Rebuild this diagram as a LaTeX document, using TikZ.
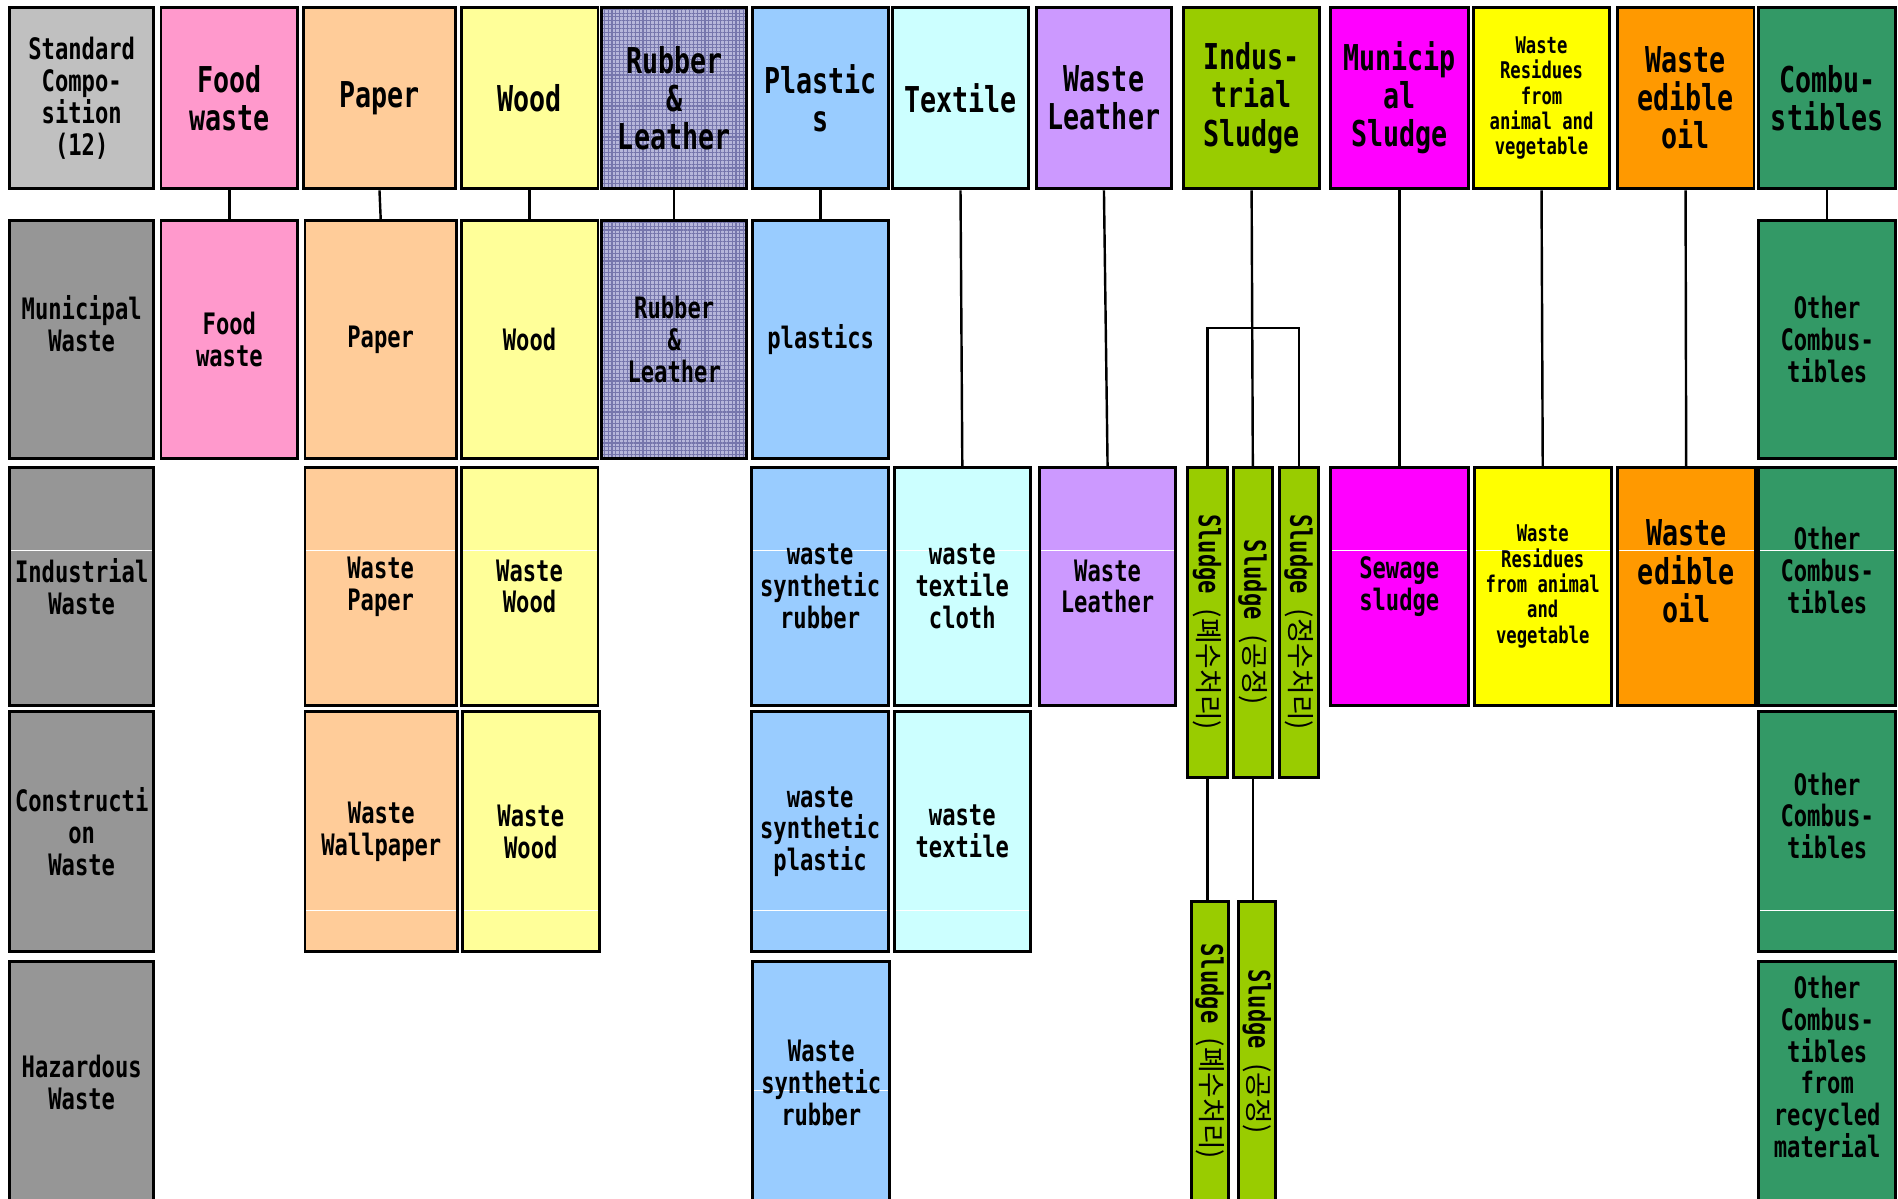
\documentclass[tikz,border=0pt]{standalone}
\usepackage{fontspec}
\usepackage{graphicx}
\setmainfont{DejaVu Sans Mono}[FakeStretch=0.75]
\newfontfamily\krfont{Noto Sans CJK KR}
\usetikzlibrary{patterns.meta}
\definecolor{stdgray}{HTML}{C0C0C0}
\definecolor{rowgray}{HTML}{969696}
\definecolor{foodc}{HTML}{FF99CC}
\definecolor{paperc}{HTML}{FFCC99}
\definecolor{woodc}{HTML}{FFFF99}
\definecolor{rubfill}{RGB}{182,182,218}
\definecolor{rubline}{RGB}{118,118,172}
\definecolor{plasc}{HTML}{99CCFF}
\definecolor{textc}{HTML}{CCFFFF}
\definecolor{leatc}{HTML}{CC99FF}
\definecolor{islc}{HTML}{99CC00}
\definecolor{mslc}{HTML}{FF00FF}
\definecolor{resc}{HTML}{FFFF00}
\definecolor{oilc}{HTML}{FF9900}
\definecolor{combc}{HTML}{339966}
\tikzset{
  box/.style={draw=black, line width=1.2pt, inner sep=0pt, align=center, text=black},
  L/.style={font=\bfseries\fontsize{14.7}{15.75}\selectfont},
  M/.style={font=\bfseries\fontsize{12.2}{13.15}\selectfont},
  S/.style={font=\bfseries\fontsize{9.5}{10.5}\selectfont},
  rubber/.style={preaction={fill=rubfill},
    preaction={pattern={Lines[angle=0,distance=1.6pt,line width=0.45pt]}, pattern color=rubline},
    pattern={Lines[angle=90,distance=1.6pt,line width=0.45pt]}, pattern color=rubline},
  wline/.style={path picture={\draw[white,line width=0.5pt] (path picture bounding box.west |- #1) -- (path picture bounding box.east |- #1);}},
  conn/.style={draw=black, line width=1pt},
  sludgetxt/.style={font=\bfseries\fontsize{12.2}{13.15}\selectfont}
}
\newcommand\cell[7]{\node[box,#6,minimum width={(#4-#2)*0.5pt},minimum height={(#5-#3)*0.5pt}] (#1) at ({(#2+#4)/2},{(#3+#5)/2}) {#7};}
\newcommand\sltext[1]{\rotatebox{-90}{Sludge\hspace{6pt}{\krfont\mdseries\fontsize{11.5}{12}\selectfont (#1)}}}
\begin{document}
\begin{tikzpicture}[x=0.5pt,y=-0.5pt]
\useasboundingbox (0,0) rectangle (1568,990);
\clip (0,0) rectangle (1568,990);
\coordinate (wa) at (0,455);
\coordinate (wb) at (0,752);
\coordinate (wc) at (0,901);
\coordinate (br) at (1034,271);
% Row 1
\cell{std1}{8}{6}{127}{156}{M,fill=stdgray}{Standard\\Compo-\\sition\\(12)}
\cell{food1}{133}{6}{246}{156}{L,fill=foodc}{Food\\waste}
\cell{paper1}{251}{6}{376}{156}{L,fill=paperc}{Paper}
\cell{wood1}{381}{6}{494}{156}{L,fill=woodc}{Wood}
\cell{rub1}{497}{6}{617}{156}{L,rubber}{Rubber\\\&\\Leather}
\cell{plas1}{622}{6}{734}{156}{L,fill=plasc}{Plastic\\s}
\cell{text1}{737}{6}{850}{156}{L,fill=textc}{Textile}
\cell{leat1}{856}{6}{968}{156}{L,fill=leatc}{Waste\\Leather}
\cell{isl1}{978}{6}{1090}{156}{L,fill=islc}{Indus-\\trial\\Sludge}
\cell{msl1}{1099}{6}{1213}{156}{L,fill=mslc}{Municip\\al\\Sludge}
\cell{res1}{1217}{6}{1330}{156}{S,fill=resc}{Waste\\Residues\\from\\animal and\\vegetable}
\cell{oil1}{1336}{6}{1449}{156}{L,fill=oilc}{Waste\\edible\\oil}
\cell{comb1}{1453}{6}{1566}{156}{L,fill=combc}{Combu-\\stibles}
% Row 2
\cell{mun2}{8}{182}{127}{379}{M,fill=rowgray}{Municipal\\Waste\\\mbox{}}
\cell{food2}{133}{182}{246}{379}{M,fill=foodc}{Food\\waste}
\cell{paper2}{252}{182}{377}{379}{M,fill=paperc}{Paper}
\cell{wood2}{381}{182}{494}{379}{M,fill=woodc}{Wood}
\cell{rub2}{497}{182}{617}{379}{M,rubber}{Rubber\\\&\\Leather}
\cell{plas2}{622}{182}{734}{379}{M,fill=plasc}{plastics}
\cell{comb2}{1453}{182}{1566}{379}{M,fill=combc}{Other\\Combus-\\tibles}
% Row 3
\cell{ind3}{8}{386}{127}{583}{M,fill=rowgray,wline=wa}{Industrial\\Waste}
\cell{paper3}{252}{386}{377}{583}{M,fill=paperc,wline=wa}{Waste\\Paper}
\cell{wood3}{381}{386}{494}{583}{M,fill=woodc,wline=wa}{Waste\\Wood}
\cell{plas3}{621}{386}{734}{583}{M,fill=plasc,wline=wa}{waste\\synthetic\\rubber}
\cell{text3}{739}{386}{851}{583}{M,fill=textc,wline=wa}{waste\\textile\\cloth}
\cell{leat3}{859}{386}{971}{583}{M,fill=leatc,wline=wa}{Waste\\Leather}
\cell{s1}{981}{386}{1014}{642}{sludgetxt,fill=islc}{\sltext{폐수처리}}
\cell{s2}{1019}{386}{1051}{642}{sludgetxt,fill=islc}{\sltext{공정}}
\cell{s3}{1057}{386}{1089}{642}{sludgetxt,fill=islc}{\sltext{정수처리}}
\cell{msl3}{1099}{386}{1213}{583}{M,fill=mslc,wline=wa}{Sewage\\sludge}
\cell{res3}{1218}{386}{1331}{583}{S,fill=resc,wline=wa}{Waste\\Residues\\from animal\\and\\vegetable}
\cell{oil3}{1336}{386}{1450}{583}{L,fill=oilc,wline=wa}{Waste\\edible\\oil\\[-3pt]\mbox{}}
\cell{comb3}{1453}{386}{1566}{583}{M,fill=combc,wline=wa}{Other\\Combus-\\tibles\\\mbox{}}
% Row 4
\cell{con4}{8}{588}{127}{786}{M,fill=rowgray}{Constructi\\on\\Waste}
\cell{paper4}{252}{588}{378}{786}{M,fill=paperc,wline=wb}{Waste\\Wallpaper}
\cell{wood4}{382}{588}{495}{786}{M,fill=woodc,wline=wb}{Waste\\Wood}
\cell{plas4}{621}{588}{734}{786}{M,fill=plasc,wline=wb}{waste\\synthetic\\plastic}
\cell{text4}{739}{588}{851}{786}{M,fill=textc,wline=wb}{waste\\textile}
\cell{comb4}{1453}{588}{1566}{786}{M,fill=combc,wline=wb}{Other\\Combus-\\tibles\\\mbox{}}
% Row 5
\cell{haz5}{8}{794}{127}{995}{M,fill=rowgray}{Hazardous\\Waste}
\cell{plas5}{622}{794}{735}{995}{M,fill=plasc,wline=wc}{Waste\\synthetic\\rubber}
\cell{comb5}{1453}{794}{1566}{995}{M,fill=combc}{Other\\Combus-\\tibles\\from\\recycled\\material\\\mbox{}}
\cell{l1}{984}{745}{1015}{992}{sludgetxt,fill=islc}{\sltext{폐수처리}}
\cell{l2}{1023}{745}{1054}{992}{sludgetxt,fill=islc}{\sltext{공정}}
% Connectors
\foreach \a/\b in {food1/food2,paper1/paper2,wood1/wood2,rub1/rub2,plas1/plas2,text1/text3,leat1/leat3,msl1/msl3,res1/res3,oil1/oil3,comb1/comb2,isl1/s2}
  \draw[conn] (\a.south) -- (\b.north);
\draw[conn] (s1.north) |- (br) -| (s3.north);
\draw[conn] (s1.south) -- (s1.south |- l1.north);
\draw[conn] (s2.south) -- (s2.south |- l2.north);
\end{tikzpicture}
\end{document}
